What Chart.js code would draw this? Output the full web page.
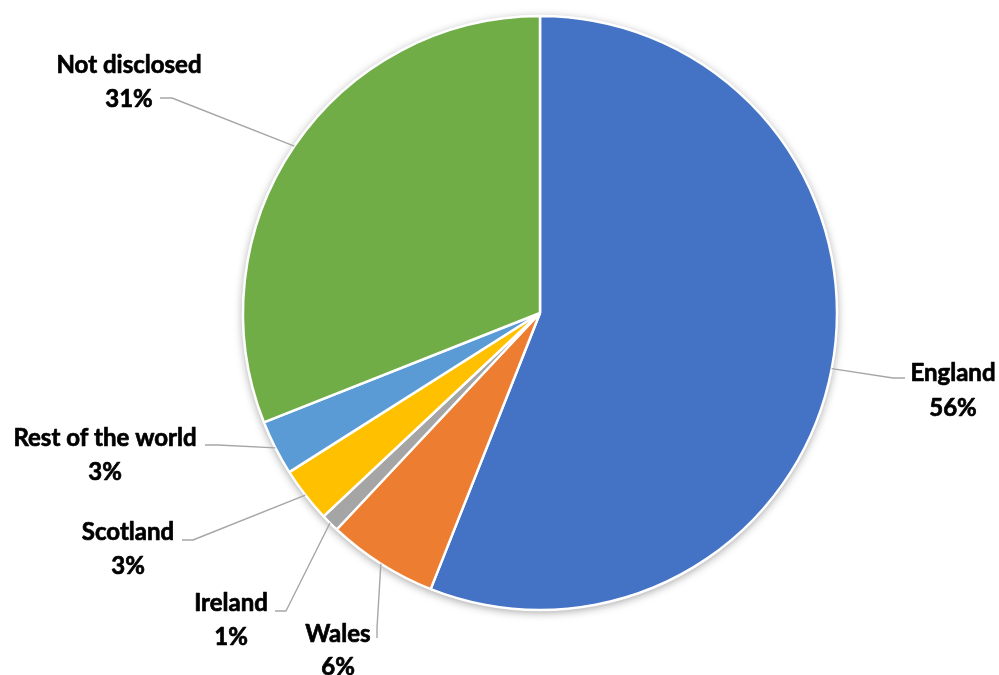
<!DOCTYPE html>
<html>
<head>
<meta charset="utf-8">
<script src="https://cdn.jsdelivr.net/npm/chart.js@4/dist/chart.umd.min.js"></script>
<style>
  html, body { margin: 0; padding: 0; background: #ffffff; }
  #wrap { width: 999px; height: 675px; position: relative; }
</style>
</head>
<body>
<div id="wrap"><canvas id="pie" width="999" height="675"></canvas></div>
<script>
// Respondents by location
const categories = ['England', 'Wales', 'Ireland', 'Scotland', 'Rest of the world', 'Not disclosed'];
const shares = [56, 6, 1, 3, 3, 31];
const percentLabels = ['56%', '6%', '1%', '3%', '3%', '31%'];
const sliceColors = ['#4472C4', '#ED7D31', '#A5A5A5', '#FFC000', '#5B9BD5', '#70AD47'];

// Label placement: text centre, first/second line positions, and the elbow of each leader line
const labelLayout = [
  { x: 953, y1: 373, y2: 408, elbow: [893, 378], end: [905, 378] },
  { x: 338, y1: 634, y2: 667, elbow: [377, 628], end: [377, 638] },
  { x: 231, y1: 603, y2: 637, elbow: [286, 611], end: [275, 611] },
  { x: 128, y1: 532, y2: 566, elbow: [193, 540], end: [182, 540] },
  { x: 105, y1: 438, y2: 472, elbow: [218, 445], end: [205, 445] },
  { x: 129, y1: 65,  y2: 99,  elbow: [172, 98],  end: [160, 98] }
];

// Soft drop shadow beneath the whole pie
const pieShadow = {
  id: 'pieShadow',
  beforeDatasetsDraw(chart) {
    const arc = chart.getDatasetMeta(0).data[0];
    if (!arc) return;
    const ctx = chart.ctx;
    ctx.save();
    ctx.shadowColor = 'rgba(0,0,0,0.4)';
    ctx.shadowBlur = 10;
    ctx.shadowOffsetX = 0;
    ctx.shadowOffsetY = 2;
    ctx.fillStyle = '#ffffff';
    ctx.beginPath();
    ctx.arc(arc.x, arc.y, arc.outerRadius, 0, Math.PI * 2);
    ctx.fill();
    ctx.restore();
  }
};

// Category name and percentage outside each slice, joined by a grey leader line
const outsideLabels = {
  id: 'outsideLabels',
  afterDatasetsDraw(chart) {
    const ctx = chart.ctx;
    const meta = chart.getDatasetMeta(0);
    ctx.save();
    meta.data.forEach((arc, i) => {
      const L = labelLayout[i];
      const mid = (arc.startAngle + arc.endAngle) / 2;
      const sx = arc.x + Math.cos(mid) * arc.outerRadius;
      const sy = arc.y + Math.sin(mid) * arc.outerRadius;
      ctx.strokeStyle = '#A6A6A6';
      ctx.lineWidth = 1.4;
      ctx.beginPath();
      ctx.moveTo(sx, sy);
      ctx.lineTo(L.elbow[0], L.elbow[1]);
      ctx.lineTo(L.end[0], L.end[1]);
      ctx.stroke();

      ctx.fillStyle = '#000000';
      ctx.strokeStyle = '#000000';
      ctx.lineWidth = 0.7;
      ctx.lineJoin = 'round';
      ctx.font = 'bold 24px Lato';
      ctx.textAlign = 'center';
      ctx.textBaseline = 'middle';
      [[categories[i], L.y1], [percentLabels[i], L.y2]].forEach(([t, y]) => {
        ctx.fillText(t, L.x, y);
        ctx.strokeText(t, L.x, y);
      });
    });
    ctx.restore();
  }
};

new Chart(document.getElementById('pie'), {
  type: 'pie',
  data: {
    labels: categories,
    datasets: [{
      data: shares,
      backgroundColor: sliceColors,
      borderColor: '#ffffff',
      borderWidth: 2.5
    }]
  },
  options: {
    responsive: false,
    devicePixelRatio: 1,
    animation: false,
    radius: 297,
    layout: { padding: { left: 81, right: 0, top: 0, bottom: 49 } },
    plugins: {
      legend: { display: false },
      tooltip: { enabled: false }
    }
  },
  plugins: [pieShadow, outsideLabels]
});
</script>
</body>
</html>
